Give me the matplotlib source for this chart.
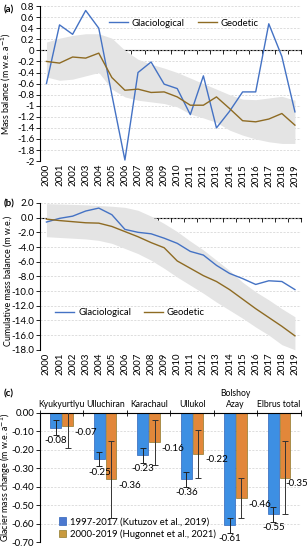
import matplotlib
matplotlib.use('Agg')
import matplotlib.pyplot as plt
from matplotlib.patches import Patch
from matplotlib.ticker import MultipleLocator, FuncFormatter, FormatStrFormatter
import numpy as np

plt.rcParams['font.family'] = ['Lato', 'DejaVu Sans']
plt.rcParams['font.size'] = 7
plt.rcParams['axes.unicode_minus'] = False

# Data
years = [str(y) for y in range(2000, 2020)]

glac_annual = [-0.60, 0.46, 0.29, 0.72, 0.40, -0.80, -1.98, -0.40, -0.21, -0.61,
               -0.69, -1.16, -0.46, -1.40, -1.10, -0.75, -0.75, 0.48, -0.11, -1.11]
geod_annual = [-0.20, -0.23, -0.12, -0.14, -0.05, -0.49, -0.72, -0.70, -0.76, -0.75,
               -0.84, -0.99, -0.99, -0.84, -1.05, -1.27, -1.29, -1.24, -1.14, -1.35]
band_a_upper = [0.15, 0.22, 0.27, 0.30, 0.30, 0.22, 0.00, -0.16, -0.25, -0.32,
                -0.40, -0.50, -0.60, -0.70, -0.80, -0.88, -0.89, -0.86, -0.83, -0.90]
band_a_lower = [-0.48, -0.54, -0.52, -0.46, -0.40, -0.70, -0.84, -0.90, -0.93, -0.96,
                -1.02, -1.15, -1.22, -1.30, -1.44, -1.53, -1.60, -1.65, -1.68, -1.68]

glac_cum = [-0.6, -0.1, 0.2, 0.9, 1.3, 0.4, -1.6, -2.0, -2.2, -2.8,
            -3.5, -4.6, -5.1, -6.5, -7.6, -8.3, -9.1, -8.6, -8.7, -9.8]
geod_cum = [-0.2, -0.4, -0.55, -0.7, -0.75, -1.2, -1.9, -2.6, -3.4, -4.1,
            -5.9, -6.9, -7.9, -8.7, -9.8, -11.1, -12.4, -13.6, -14.8, -16.1]
band_b_upper = [1.9, 1.85, 1.8, 1.75, 1.65, 1.55, 1.4, 1.0, 0.2, -0.8,
                -1.9, -3.2, -4.4, -5.8, -7.2, -8.8, -10.1, -11.2, -12.4, -13.5]
band_b_lower = [-2.6, -2.7, -2.8, -2.9, -3.1, -3.5, -4.2, -4.9, -5.8, -6.9,
                -8.1, -9.2, -10.3, -11.5, -12.6, -13.7, -14.9, -16.0, -17.3, -18.0]

glaciers = ['Kyukyurtlyu', 'Ulluchiran', 'Karachaul', 'Ullukol', 'Bolshoy\nAzay', 'Elbrus total']
kutuzov = [-0.08, -0.25, -0.23, -0.36, -0.61, -0.55]
kutuzov_err = [0.04, 0.04, 0.04, 0.04, 0.04, 0.04]
hugonnet = [-0.07, -0.36, -0.16, -0.22, -0.46, -0.35]
hugonnet_err = [0.12, 0.21, 0.12, 0.13, 0.11, 0.20]

BLUE = '#4472c4'
BROWN = '#8e6b23'
BAND = '#e4e4e4'
GRID = '#d0d0d0'
YLABEL_SIZE = 6.4
YLABEL_X = -0.103


def zero_axis(ax, n, ymin, ymax):
    # Excel style horizontal axis crossing at zero, labels stay at the bottom
    frac = (0 - ymin) / (ymax - ymin)
    sec = ax.secondary_xaxis(frac)
    sec.set_alignment('bottom')
    sec.set_xticks(np.arange(-0.5, n, 1.0))
    sec.tick_params(direction='out', length=3, width=0.6, labelbottom=False, labeltop=False)
    sec.spines['bottom'].set_linewidth(0.8)


def time_panel(ax, glac, geod, upper, lower, ymin, ymax, step, fmt):
    x = np.arange(len(years))
    ax.fill_between(x, lower, upper, color=BAND, lw=0, zorder=1)
    ax.plot(x, glac, color=BLUE, lw=1.0, label='Glaciological', zorder=3)
    ax.plot(x, geod, color=BROWN, lw=1.0, label='Geodetic', zorder=3)
    ax.set_xlim(-0.5, len(years) - 0.5)
    ax.set_ylim(ymin, ymax)
    ax.yaxis.set_major_locator(MultipleLocator(step))
    ax.yaxis.set_major_formatter(fmt)
    ax.set_xticks(x)
    ax.set_xticklabels(years, rotation=90)
    ax.tick_params(axis='x', length=0, pad=2)
    ax.tick_params(axis='y', direction='out', length=3, width=0.6, pad=1)
    ax.grid(axis='y', color=GRID, ls=(0, (3, 2)), lw=0.5)
    ax.set_axisbelow(True)
    for s in ['top', 'right', 'bottom']:
        ax.spines[s].set_visible(False)
    ax.spines['left'].set_linewidth(0.8)
    zero_axis(ax, len(years), ymin, ymax)


fig = plt.figure(figsize=(3.07, 5.5), dpi=100)

ax1 = fig.add_axes([0.130, 0.707, 0.852, 0.282])
time_panel(ax1, glac_annual, geod_annual, band_a_upper, band_a_lower, -2, 0.8, 0.2,
           FuncFormatter(lambda v, p: f'{round(v, 1) + 0.0:g}'))
ax1.set_ylabel('Mass balance (m w.e. a$^{-1}$)', fontsize=YLABEL_SIZE)
ax1.yaxis.set_label_coords(YLABEL_X, 0.5)
ax1.legend(loc='center', bbox_to_anchor=(0.55, 0.89), ncol=2, frameon=False,
           handlelength=2.0, columnspacing=1.4, handletextpad=0.4, fontsize=6.8)

ax2 = fig.add_axes([0.130, 0.364, 0.852, 0.267])
time_panel(ax2, glac_cum, geod_cum, band_b_upper, band_b_lower, -18, 2, 2,
           FormatStrFormatter('%.1f'))
ax2.set_ylabel('Cumulative mass balance (m w.e.)', fontsize=YLABEL_SIZE)
ax2.yaxis.set_label_coords(YLABEL_X, 0.47)
ax2.legend(loc='center', bbox_to_anchor=(0.345, 0.254), ncol=2, frameon=False,
           handlelength=2.0, columnspacing=1.4, handletextpad=0.4, fontsize=6.8)

# Panel (c): bar chart
ax3 = fig.add_axes([0.130, 0.0145, 0.850, 0.2346])
xc = np.arange(len(glaciers))
w = 0.25
off = 0.135
ax3.bar(xc - off, kutuzov, w, color='#3d8fe3', edgecolor='#2f63b8', lw=0.5, zorder=2)
ax3.bar(xc + off, hugonnet, w, color='#e2873a', edgecolor='#8f7a2a', lw=0.5, zorder=2)
ax3.errorbar(xc - off, kutuzov, yerr=kutuzov_err, fmt='none', ecolor='#222222',
             elinewidth=0.7, capsize=2, capthick=0.7, zorder=3)
ax3.errorbar(xc + off, hugonnet, yerr=hugonnet_err, fmt='none', ecolor='#333333',
             elinewidth=0.7, capsize=2, capthick=0.7, zorder=3)
last = len(glaciers) - 1
for i in range(len(glaciers)):
    ax3.text(xc[i] - off, kutuzov[i] - kutuzov_err[i] - 0.006, f'{kutuzov[i]:.2f}',
             ha='center', va='top', clip_on=False)
    # the last label is pulled in so it stays inside the plot, as in the source
    lx = xc[i] + off + w / 2 + 0.04 if i < last else xc[i] + off + 0.02
    ax3.text(lx, hugonnet[i] - 0.035, f'{hugonnet[i]:.2f}', ha='left', va='center')

ax3.set_xlim(-0.5, len(glaciers) - 0.5)
ax3.set_ylim(-0.70, 0)
ax3.yaxis.set_major_locator(MultipleLocator(0.1))
ax3.yaxis.set_major_formatter(FormatStrFormatter('%.2f'))
ax3.xaxis.set_ticks_position('top')
ax3.set_xticks(xc)
ax3.set_xticklabels(glaciers, linespacing=1.3, fontsize=6.2)
ax3.set_xticks(np.arange(-0.5, len(glaciers), 1.0), minor=True)
ax3.tick_params(axis='x', which='major', length=0, pad=3)
ax3.tick_params(axis='x', which='minor', direction='inout', length=5, width=0.6)
ax3.tick_params(axis='y', direction='out', length=3, width=0.6, pad=1)
ax3.grid(axis='y', color=GRID, ls=(0, (3, 2)), lw=0.5)
ax3.set_axisbelow(True)
for s in ['right', 'bottom']:
    ax3.spines[s].set_visible(False)
ax3.spines['top'].set_linewidth(0.8)
ax3.spines['left'].set_linewidth(0.8)
ax3.set_ylabel('Glacier mass change (m w.e. a$^{-1}$)', fontsize=YLABEL_SIZE)
ax3.yaxis.set_label_coords(YLABEL_X, 0.5)
handles = [Patch(facecolor='#4b78d0', edgecolor='#2f63b8', lw=0.5),
           Patch(facecolor='#c99a3e', edgecolor='#8f7a2a', lw=0.5)]
ax3.legend(handles, ['1997-2017 (Kutuzov et al., 2019)', '2000-2019 (Hugonnet et al., 2021)'],
           loc='lower left', bbox_to_anchor=(0.04, -0.04), frameon=False,
           handlelength=0.8, handleheight=0.8, handletextpad=0.4, labelspacing=0.3,
           fontsize=6.8)

fig.text(0.012, 0.982, '(a)', fontweight='bold', fontsize=7, va='center')
fig.text(0.012, 0.629, '(b)', fontweight='bold', fontsize=7, va='center')
fig.text(0.012, 0.283, '(c)', fontweight='bold', fontsize=7, va='center')

fig.savefig('out.png', dpi=100)
